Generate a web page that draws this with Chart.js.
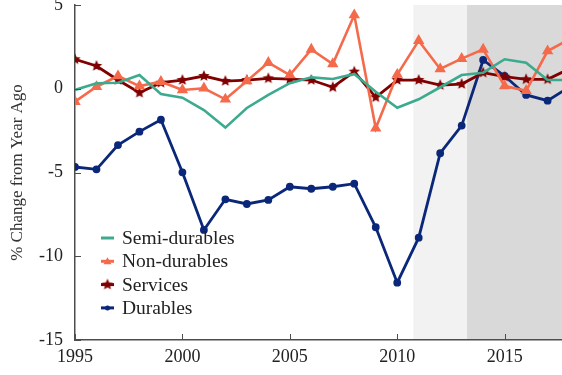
<!DOCTYPE html>
<html>
<head>
<meta charset="utf-8">
<script src="https://cdn.jsdelivr.net/npm/chart.js@4"></script>
<style>
  html, body { margin: 0; padding: 0; background: #fff; }
  #wrap { width: 562px; height: 375px; }
</style>
</head>
<body>
<div id="wrap"><canvas id="myChart" width="562" height="375"></canvas></div>
<script>
// annual growth, % change from year ago
const years = [1995, 1996, 1997, 1998, 1999, 2000, 2001, 2002, 2003, 2004, 2005, 2006,
  2007, 2008, 2009, 2010, 2011, 2012, 2013, 2014, 2015, 2016, 2017, 2018];

const semiDurables = [-0.07, 0.33, 0.36, 0.82, -0.31, -0.53, -1.27, -2.32, -1.15, -0.37, 0.33, 0.68,
  0.58, 0.88, -0.18, -1.13, -0.63, 0.09, 0.82, 0.96, 1.76, 1.56, 0.52, 0.52];
const nonDurables = [-0.77, 0.12, 0.76, 0.16, 0.42, -0.07, 0.03, -0.63, 0.46, 1.56, 0.82, 2.35,
  1.48, 4.4, -2.36, 0.85, 2.87, 1.18, 1.8, 2.35, 0.16, -0.12, 2.25, 2.95];
const services = [1.76, 1.36, 0.52, -0.24, 0.36, 0.52, 0.76, 0.46, 0.52, 0.62, 0.58, 0.52,
  0.09, 1.02, -0.51, 0.52, 0.52, 0.22, 0.28, 0.96, 0.72, 0.56, 0.56, 1.18];
const durables = [-4.67, -4.81, -3.36, -2.56, -1.85, -4.99, -8.43, -6.6, -6.88, -6.64, -5.85, -5.97,
  -5.85, -5.67, -8.27, -11.58, -8.89, -3.85, -2.2, 1.72, 0.76, -0.37, -0.71, 0.1];

const xTicks = [1995, 2000, 2005, 2010, 2015];
const yTicks = [-15, -10, -5, 0, 5];

// shaded periods
const lightBand = [2010.75, 2013.25];
const darkBand = [2013.25, 2017.67];

const serif = '"Liberation Serif", "Times New Roman", serif';
const axisColor = '#4d4d4d';

function toPoints(vals) {
  return vals.map((v, i) => ({ x: years[i], y: v }));
}

// filled five-point star for the services markers
function makeStar(color, r) {
  const c = document.createElement('canvas');
  const s = Math.ceil(r * 2 + 2);
  c.width = s; c.height = s;
  const g = c.getContext('2d');
  g.fillStyle = color;
  g.beginPath();
  for (let i = 0; i < 10; i++) {
    const rad = i % 2 === 0 ? r : r * 0.45;
    const a = -Math.PI / 2 + i * Math.PI / 5;
    const px = s / 2 + rad * Math.cos(a);
    const py = s / 2 + rad * Math.sin(a);
    if (i === 0) g.moveTo(px, py); else g.lineTo(px, py);
  }
  g.closePath();
  g.fill();
  return c;
}
const starImg = makeStar('#800000', 6);

const bands = {
  id: 'bands',
  beforeDraw(chart) {
    const { ctx, chartArea } = chart;
    const x = chart.scales.x;
    const fill = (b, col) => {
      const x0 = x.getPixelForValue(b[0]);
      const x1 = Math.min(x.getPixelForValue(b[1]), chartArea.right);
      ctx.fillStyle = col;
      ctx.fillRect(x0, chartArea.top, x1 - x0, chartArea.bottom - chartArea.top);
    };
    ctx.save();
    fill(lightBand, '#f2f2f2');
    fill(darkBand, '#d9d9d9');
    ctx.restore();
  }
};

// short tick marks pointing into the plot
const innerTicks = {
  id: 'innerTicks',
  afterDraw(chart) {
    const { ctx, chartArea } = chart;
    const x = chart.scales.x, y = chart.scales.y;
    ctx.save();
    ctx.strokeStyle = axisColor;
    ctx.lineWidth = 1;
    ctx.beginPath();
    xTicks.forEach(v => {
      const px = Math.round(x.getPixelForValue(v)) + 0.5;
      ctx.moveTo(px, chartArea.bottom);
      ctx.lineTo(px, chartArea.bottom - 6);
    });
    yTicks.forEach(v => {
      const py = Math.round(y.getPixelForValue(v)) + 0.5;
      ctx.moveTo(chartArea.left, py);
      ctx.lineTo(chartArea.left + 6, py);
    });
    ctx.stroke();
    ctx.restore();
  }
};

// legend drawn inside the plot, lower left
const insideLegend = {
  id: 'insideLegend',
  afterDatasetsDraw(chart) {
    const ctx = chart.ctx;
    const x0 = 101, x1 = 114, tx = 122;
    let yy = 238;
    ctx.save();
    ctx.font = '19.5px ' + serif;
    ctx.textBaseline = 'middle';
    chart.data.datasets.forEach(ds => {
      ctx.strokeStyle = ds.borderColor;
      ctx.lineWidth = 3;
      ctx.beginPath();
      ctx.moveTo(x0, yy);
      ctx.lineTo(x1, yy);
      ctx.stroke();
      const cx = (x0 + x1) / 2;
      ctx.fillStyle = ds.borderColor;
      if (ds.pointStyle === 'triangle') {
        ctx.beginPath();
        ctx.moveTo(cx, yy - 4);
        ctx.lineTo(cx + 4, yy + 3);
        ctx.lineTo(cx - 4, yy + 3);
        ctx.closePath();
        ctx.fill();
      } else if (ds.pointStyle === starImg) {
        ctx.drawImage(starImg, cx - starImg.width / 2, yy - starImg.height / 2);
      } else if (ds.pointRadius > 0) {
        ctx.beginPath();
        ctx.arc(cx, yy, 2.5, 0, Math.PI * 2);
        ctx.fill();
      }
      ctx.fillStyle = '#222';
      ctx.fillText(ds.label, tx, yy + 1);
      yy += 23.3;
    });
    ctx.restore();
  }
};

var ctx = document.getElementById('myChart').getContext('2d');
var myChart = new Chart(ctx, {
  type: 'line',
  data: {
    datasets: [
      {
        label: 'Semi-durables',
        data: toPoints(semiDurables),
        borderColor: '#3caa8e',
        backgroundColor: '#3caa8e',
        borderWidth: 2.6,
        pointRadius: 0
      },
      {
        label: 'Non-durables',
        data: toPoints(nonDurables),
        borderColor: '#f46a4b',
        backgroundColor: '#f46a4b',
        borderWidth: 2.6,
        pointStyle: 'triangle',
        pointRadius: 4
      },
      {
        label: 'Services',
        data: toPoints(services),
        borderColor: '#800000',
        backgroundColor: '#800000',
        borderWidth: 2.8,
        pointStyle: starImg,
        pointRadius: 6
      },
      {
        label: 'Durables',
        data: toPoints(durables),
        borderColor: '#0b2779',
        backgroundColor: '#0b2779',
        borderWidth: 2.8,
        pointStyle: 'circle',
        pointRadius: 2.5
      }
    ]
  },
  options: {
    responsive: false,
    animation: false,
    layout: { autoPadding: false, padding: { top: 5, right: 0, left: 0, bottom: 0 } },
    plugins: {
      legend: { display: false },
      tooltip: { enabled: false }
    },
    scales: {
      x: {
        type: 'linear',
        min: 1995,
        max: 2017.67,
        afterBuildTicks: s => { s.ticks = xTicks.map(v => ({ value: v })); },
        afterFit: s => { s.height = 35; s.paddingLeft = 0; s.paddingRight = 0; },
        grid: { display: false, drawTicks: false },
        border: { display: true, color: axisColor, width: 1.5 },
        ticks: {
          padding: 6,
          maxRotation: 0,
          autoSkip: false,
          color: '#222',
          font: { family: serif, size: 18 },
          callback: v => String(v)
        }
      },
      y: {
        min: -15,
        max: 5,
        afterBuildTicks: s => { s.ticks = yTicks.map(v => ({ value: v })); },
        afterFit: s => { s.width = 75; s.paddingTop = 0; s.paddingBottom = 0; },
        grid: { display: false, drawTicks: false },
        border: { display: true, color: axisColor, width: 1.5 },
        ticks: {
          padding: 12,
          color: '#222',
          font: { family: serif, size: 18 },
          callback: v => String(v)
        },
        title: {
          display: true,
          text: '% Change from Year Ago',
          color: '#333',
          font: { family: serif, size: 17 },
          padding: { top: 7, bottom: 0 }
        }
      }
    }
  },
  plugins: [bands, innerTicks, insideLegend]
});
</script>
</body>
</html>
